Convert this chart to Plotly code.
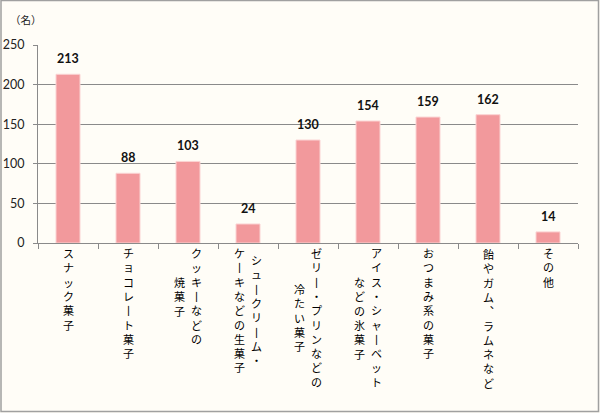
import plotly.graph_objects as go

categories = ["スナック菓子", "チョコレート菓子", "クッキーなどの焼菓子", "シュークリーム・ケーキなどの生菓子",
              "ゼリー・プリンなどの冷たい菓子", "アイス・シャーベットなどの氷菓子", "おつまみ系の菓子",
              "飴やガム、ラムネなど", "その他"]
label_columns = [["スナック菓子"], ["チョコレート菓子"], ["クッキーなどの", "焼菓子"],
                 ["シュークリーム・", "ケーキなどの生菓子"], ["ゼリー・プリンなどの", "冷たい菓子"],
                 ["アイス・シャーベット", "などの氷菓子"], ["おつまみ系の菓子"], ["飴やガム、ラムネなど"], ["その他"]]
values = [213, 88, 103, 24, 130, 154, 159, 162, 14]
unit_label = "（名）"

BG = "#fffdf7"
GRID = "#8a8a8a"
JP = "Liberation Sans, Noto Sans CJK JP"
NUMFONT = "Lato, Open Sans"

fig = go.Figure()
fig.add_trace(go.Bar(
    x=categories, y=values, width=0.4,
    marker=dict(color="#f2999c", line=dict(color="#fbd3d3", width=1)),
    hoverinfo="skip",
))

ann = []
# value labels
for c, v in zip(categories, values):
    ann.append(dict(x=c, y=v, xref="x", yref="y", text=f"<b>{v}</b>", showarrow=False,
                    yanchor="bottom", yshift=6, font=dict(family=NUMFONT, size=12.5, color="#111")))

# vertical (tategaki) category labels, one annotation per column
vmap = {"ー": "丨", "、": "︑"}
fs = 11
pitch = fs * 1.3
for c, cols in zip(categories, label_columns):
    n = len(cols)
    maxlen = max(len(s) for s in cols)
    for j, col in enumerate(cols):
        xs = 0 if n == 1 else (8.5 if j == 0 else -8.5)
        off = (maxlen - len(col)) * pitch / 2
        txt = "<br>".join(vmap.get(ch, ch) for ch in col)
        ann.append(dict(x=c, y=0, xref="x", yref="paper", text=txt, showarrow=False,
                        xanchor="center", yanchor="top", align="center",
                        xshift=xs, yshift=-(3 + off),
                        font=dict(family=JP, size=fs, color="#000")))

ann.append(dict(x=(26 - 38) / 540, y=(243 - 20) / 198, xref="paper", yref="paper", text=unit_label,
                showarrow=False, xanchor="center", yanchor="middle",
                font=dict(family=JP, size=10.5, color="#222")))

fig.update_layout(
    width=600, height=413,
    margin=dict(l=38, r=22, t=45, b=170, autoexpand=False),
    paper_bgcolor=BG, plot_bgcolor=BG,
    showlegend=False, bargap=0.6,
    annotations=ann,
    xaxis=dict(showticklabels=False, showline=True, linecolor=GRID, linewidth=1,
               ticks="outside", tickson="boundaries", ticklen=5, tickcolor=GRID,
               showgrid=False, fixedrange=True, automargin=False),
    yaxis=dict(range=[0, 250], dtick=50, showline=True, linecolor=GRID, linewidth=1,
               ticks="outside", ticklen=4, tickcolor=GRID, gridcolor=GRID, gridwidth=1,
               ticklabelstandoff=6, automargin=False,
               tickfont=dict(family=NUMFONT, size=12.5, color="#222"), zeroline=False),
    shapes=[dict(type="rect", xref="paper", yref="paper",
                 x0=(1 - 38) / 540, x1=(598.5 - 38) / 540,
                 y0=(243 - 411.5) / 198, y1=(243 - 0.5) / 198,
                 line=dict(color="#a0a0a0", width=1.5), fillcolor="rgba(0,0,0,0)", layer="below")],
)

fig.write_html("out.html")
